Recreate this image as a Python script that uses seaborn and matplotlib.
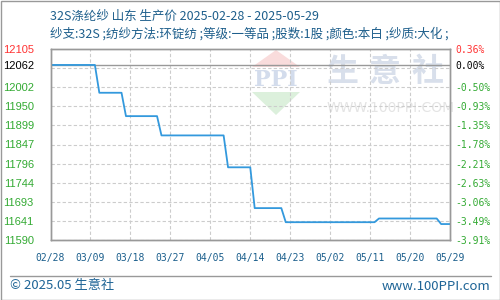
import matplotlib
matplotlib.use('Agg')
import matplotlib.pyplot as plt
from matplotlib.patches import Polygon, Rectangle
from matplotlib.lines import Line2D
import seaborn as sns
import pandas as pd

# ---- data ----
dates = ['2025-02-28', '2025-03-10', '2025-03-11', '2025-03-16', '2025-03-17',
         '2025-03-24', '2025-03-25', '2025-04-08', '2025-04-09', '2025-04-14',
         '2025-04-15', '2025-04-21', '2025-04-22', '2025-05-12', '2025-05-13',
         '2025-05-26', '2025-05-27', '2025-05-29']
prices = [12062, 12062, 11987, 11987, 11924, 11924, 11872, 11872, 11786, 11786,
          11676, 11676, 11638, 11638, 11648, 11648, 11633, 11633]
base_price = 12062
xtick_dates = ['2025-02-28', '2025-03-09', '2025-03-18', '2025-03-27', '2025-04-05',
               '2025-04-14', '2025-04-23', '2025-05-02', '2025-05-11', '2025-05-20',
               '2025-05-29']
xtick_labels = ['02/28', '03/09', '03/18', '03/27', '04/05', '04/14', '04/23',
                '05/02', '05/11', '05/20', '05/29']
ytick_vals = [12105, 12062, 12002, 11950.5, 11899, 11847.5, 11796, 11744.5, 11693, 11641.5, 11590]
ytick_labels = ['12105', '12062', '12002', '11950', '11899', '11847', '11796', '11744',
                '11693', '11641', '11590']
pct_labels = ['0.36%', '0.00%', '-0.50%', '-0.93%', '-1.35%', '-1.78%', '-2.21%',
              '-2.63%', '-3.06%', '-3.49%', '-3.91%']
grid_vals = [11590, 11641.5, 11693, 11744.5, 11796, 11847.5, 11899, 11950.5, 12002, 12053.5]
title = '32S涤纶纱 山东 生产价 2025-02-28 - 2025-05-29'
subtitle = '纱支:32S ;纺纱方法:环锭纺 ;等级:一等品 ;股数:1股 ;颜色:本白 ;纱质:大化 ;'

sns.set_style('white')
plt.rcParams['font.family'] = ['Noto Sans CJK SC', 'DejaVu Sans']

W, H = 500, 300
fig = plt.figure(figsize=(5, 3), dpi=100)
L, R, T, B = 50.5, 450, 49, 240
ax = fig.add_axes([L / W, 1 - B / H, (R - L) / W, (B - T) / H])
ax.patch.set_alpha(0)

def axc(px, py):
    return ((px - L) / (R - L), (B - py) / (B - T))

# ---- watermark ----
wm = dict(transform=ax.transAxes, zorder=0)
ax.add_patch(Polygon([axc(252, 67), axc(276, 50), axc(300, 67)], closed=True,
                     fc='#f9dcdc', ec='none', **wm))
ax.add_patch(Polygon([axc(252, 92), axc(276, 115), axc(300, 92)], closed=True,
                     fc='#dcf0dc', ec='none', **wm))
ax.text(*axc(276, 80), 'PPI', ha='center', va='center', fontsize=16, fontweight='bold',
        color='#d3dcec', family='DejaVu Serif', **wm)
for i, ch in enumerate('生意社'):
    ax.text(*axc(342 + 43 * i, 72), ch, ha='center', va='center', fontsize=23,
            fontweight='bold', color='#d8dfeb', **wm)
ax.text(*axc(327, 108), 'WWW.100PPI.COM', ha='left', va='center', fontsize=10,
        color='#e4e4e4', family='DejaVu Sans', **wm)

# ---- grid ----
for g in grid_vals:
    ax.axhline(g, color='#cccccc', lw=0.8, ls=(0, (3, 2)), zorder=1)
for d in xtick_dates[1:-1]:
    ax.axvline(pd.Timestamp(d), color='#cccccc', lw=0.8, ls=(0, (3, 2)), zorder=1)
ax.axhline(base_price, color='#999999', lw=1.0, zorder=2)

# ---- line ----
df = pd.DataFrame({'date': pd.to_datetime(dates), 'price': prices})
sns.lineplot(data=df, x='date', y='price', ax=ax, color='#3399dd', lw=1.3, zorder=3)

ax.set_xlim(pd.Timestamp(xtick_dates[0]), pd.Timestamp(xtick_dates[-1]))
ax.set_ylim(11590, 12105)
ax.set_xlabel('')
ax.set_ylabel('')

ax.set_xticks(pd.to_datetime(xtick_dates))
ax.set_xticklabels(xtick_labels, family='DejaVu Sans Mono', fontsize=7, color='#1a5e8c')
ax.tick_params(axis='x', length=0, pad=9)

ax.set_yticks(ytick_vals)
ax.set_yticklabels(ytick_labels, family='Liberation Sans', fontsize=8)
ax.tick_params(axis='y', length=0, pad=12)

def col(i):
    return '#ff3333' if i == 0 else ('#000000' if i == 1 else '#33aa33')

for i, t in enumerate(ax.get_yticklabels()):
    t.set_color(col(i))

ax2 = ax.twinx()
ax2.set_ylim(ax.get_ylim())
ax2.set_yticks(ytick_vals)
ax2.set_yticklabels(pct_labels, family='DejaVu Sans Mono', fontsize=7)
ax2.tick_params(axis='y', length=0, pad=4)
for i, t in enumerate(ax2.get_yticklabels()):
    t.set_color(col(i))

for a in (ax, ax2):
    for s in a.spines.values():
        s.set_color('#999999')
        s.set_linewidth(1.0)

# ---- titles & footer ----
fig.text(50 / W, 1 - 16 / H, title, ha='left', va='center', fontsize=9, color='#1e5f8c')
fig.text(50 / W, 1 - 34 / H, subtitle, ha='left', va='center', fontsize=9, color='#1e5f8c')
fig.add_artist(Line2D([10 / W, 491 / W], [1 - 275.5 / H, 1 - 275.5 / H],
                      color='#999999', lw=1.0, transform=fig.transFigure))
fig.text(10 / W, 1 - 286 / H, '© 2025.05 生意社', ha='left', va='center', fontsize=9.5,
         color='#1e6496')
fig.text(490 / W, 1 - 286 / H, 'www.100PPI.com', ha='right', va='center', fontsize=9.5,
         color='#1e6496')
fig.add_artist(Rectangle((0.5 / W, 0.5 / H), 1 - 1.0 / W, 1 - 1.0 / H, fill=False,
                         ec='#999999', lw=1.0, transform=fig.transFigure))

fig.savefig('out.png', dpi=100)
